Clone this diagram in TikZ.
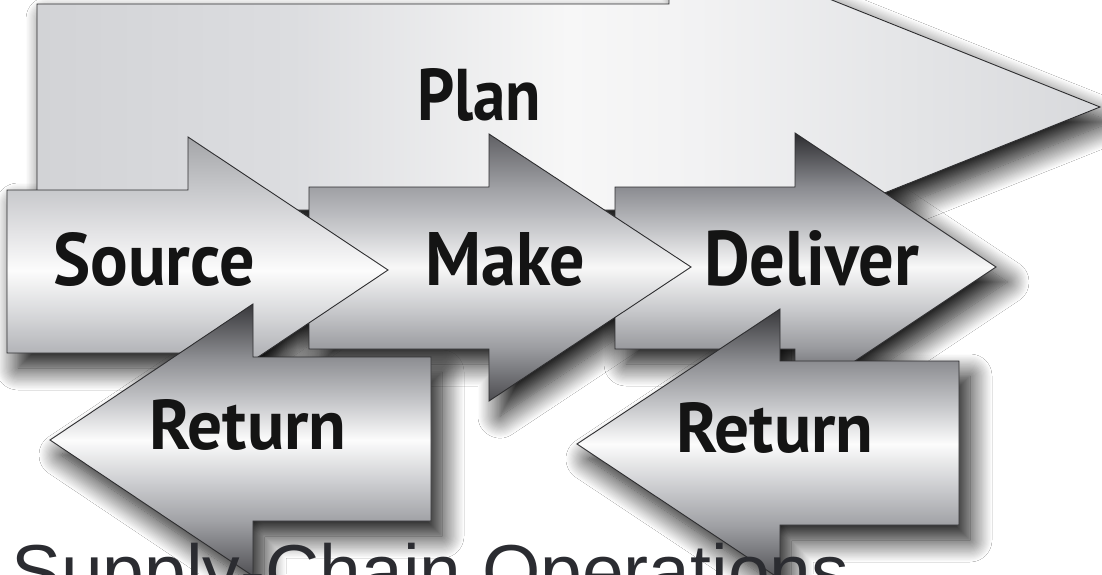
\documentclass[tikz,border=0pt]{standalone}
\usepackage{fontspec}
\setmainfont{Liberation Sans}
\newfontfamily\labfont{PT Sans}
\usepackage{graphicx}
\usetikzlibrary{shadows.blur}

\definecolor{outline}{HTML}{2E2E30}
\definecolor{titletext}{HTML}{2B2C31}
% Plan (horizontal)
\definecolor{pA}{HTML}{D2D3D6}\definecolor{pB}{HTML}{DCDDE0}\definecolor{pC}{HTML}{F7F7F7}
\definecolor{pD}{HTML}{F2F2F3}\definecolor{pE}{HTML}{E4E5E7}\definecolor{pF}{HTML}{D8D9DC}
% Source
\definecolor{sA}{HTML}{8E8F93}\definecolor{sB}{HTML}{B5B6BA}\definecolor{sC}{HTML}{D8D9DB}
\definecolor{sD}{HTML}{FCFCFC}\definecolor{sE}{HTML}{E4E4E6}\definecolor{sF}{HTML}{C8C9CC}\definecolor{sG}{HTML}{A4A5A8}
% Make
\definecolor{mA}{HTML}{4C4C50}\definecolor{mB}{HTML}{9C9DA1}\definecolor{mC}{HTML}{C8C9CC}
\definecolor{mD}{HTML}{F8F8F8}\definecolor{mE}{HTML}{CBCCCF}\definecolor{mF}{HTML}{9FA0A4}\definecolor{mG}{HTML}{606064}
% Deliver
\definecolor{dA}{HTML}{3C3C40}\definecolor{dB}{HTML}{9A9B9F}\definecolor{dC}{HTML}{C8C9CC}
\definecolor{dD}{HTML}{F8F8F8}\definecolor{dE}{HTML}{C2C3C6}\definecolor{dF}{HTML}{8A8B90}\definecolor{dG}{HTML}{2C2C2F}
% Return
\definecolor{rA}{HTML}{505054}\definecolor{rB}{HTML}{A0A1A5}\definecolor{rC}{HTML}{CBCCCF}
\definecolor{rD}{HTML}{FCFCFC}\definecolor{rE}{HTML}{C6C7CA}\definecolor{rF}{HTML}{8E8F93}\definecolor{rG}{HTML}{38383B}

\pgfdeclarehorizontalshading{shPlan}{100bp}{color(0bp)=(pA); color(25bp)=(pA); color(37bp)=(pB); color(50bp)=(pC); color(56bp)=(pD); color(66bp)=(pE); color(75bp)=(pF); color(100bp)=(pF)}
\pgfdeclareverticalshading{shSource}{100bp}{color(0bp)=(sA); color(25bp)=(sA); color(35bp)=(sB); color(42bp)=(sC); color(50bp)=(sD); color(57bp)=(sE); color(65bp)=(sF); color(75bp)=(sG); color(100bp)=(sG)}
\pgfdeclareverticalshading{shMake}{100bp}{color(0bp)=(mA); color(25bp)=(mA); color(35bp)=(mB); color(42bp)=(mC); color(50bp)=(mD); color(57bp)=(mE); color(65bp)=(mF); color(75bp)=(mG); color(100bp)=(mG)}
\pgfdeclareverticalshading{shDeliver}{100bp}{color(0bp)=(dA); color(25bp)=(dA); color(35bp)=(dB); color(42bp)=(dC); color(50bp)=(dD); color(57bp)=(dE); color(65bp)=(dF); color(75bp)=(dG); color(100bp)=(dG)}
\pgfdeclareverticalshading{shReturn}{100bp}{color(0bp)=(rA); color(25bp)=(rA); color(35bp)=(rB); color(42bp)=(rC); color(50bp)=(rD); color(57bp)=(rE); color(65bp)=(rF); color(75bp)=(rG); color(100bp)=(rG)}

\tikzset{
  arrowbox/.style={draw=outline, line width=0.9pt, line join=miter},
  shd/.style={blur shadow={shadow xshift=11pt, shadow yshift=-15pt, shadow blur radius=22pt, shadow opacity=95, shadow blur steps=20}},
  lab/.style={inner sep=0pt, anchor=base west, text=black!92},
  pPlan/.style={insert path={(37,4) -- (669,4) -- (669,-65) -- (1100,107) -- (669,279) -- (669,210) -- (37,210) -- cycle}},
  pSource/.style={insert path={(7,190) -- (188,190) -- (188,137) -- (388,270) -- (188,404) -- (188,353) -- (7,353) -- cycle}},
  pMake/.style={insert path={(309,187) -- (489,187) -- (489,134) -- (691,267) -- (489,401) -- (489,349) -- (309,349) -- cycle}},
  pDeliver/.style={insert path={(615,187) -- (795,187) -- (795,133) -- (996,267) -- (795,401) -- (795,349) -- (615,349) -- cycle}},
  pReturnL/.style={insert path={(431,357) -- (253,357) -- (253,304) -- (50,440) -- (253,576) -- (253,521) -- (431,521) -- cycle}},
  pReturnR/.style={insert path={(959,361) -- (780,361) -- (780,309) -- (577,444) -- (780,579) -- (780,525) -- (959,525) -- cycle}},
}

\begin{document}
\begin{tikzpicture}[x=1pt,y=-1pt]
\useasboundingbox (0,0) rectangle (1102,574);
\clip (0,0) rectangle (1102,574);
\fill[white] (0,0) rectangle (1102,574);

% shadows (all beneath the arrows)
\path[shd, pPlan];
\path[shd, pDeliver];
\path[shd, pMake];
\path[shd, pSource];
\path[shd, pReturnL];
\path[shd, pReturnR];

% arrows
\path[arrowbox, shading=shPlan, pPlan];
\path[arrowbox, shading=shDeliver, pDeliver];
\path[arrowbox, shading=shMake, pMake];
\path[arrowbox, shading=shSource, pSource];
\path[arrowbox, shading=shReturn, pReturnL];
\path[arrowbox, shading=shReturn, pReturnR];

% labels
\node[lab] (plan)    at (417,120) {\resizebox{124pt}{52pt}{\labfont\bfseries Plan}};
\node[lab] (source)  at (53,285)  {\resizebox{202pt}{53pt}{\labfont\bfseries Source}};
\node[lab] (make)    at (425,285) {\resizebox{160pt}{53pt}{\labfont\bfseries Make}};
\node[lab] (deliver) at (704,285) {\resizebox{215pt}{55pt}{\labfont\bfseries Deliver}};
\node[lab] (returnL) at (149,449) {\resizebox{197pt}{50pt}{\labfont\bfseries Return}};
\node[lab] (returnR) at (676,452) {\resizebox{197pt}{50pt}{\labfont\bfseries Return}};

\node[inner sep=0pt, anchor=base west, text=titletext, font=\fontsize{75}{84}\selectfont] (title) at (11,597) {Supply-Chain Operations};
\end{tikzpicture}
\end{document}
